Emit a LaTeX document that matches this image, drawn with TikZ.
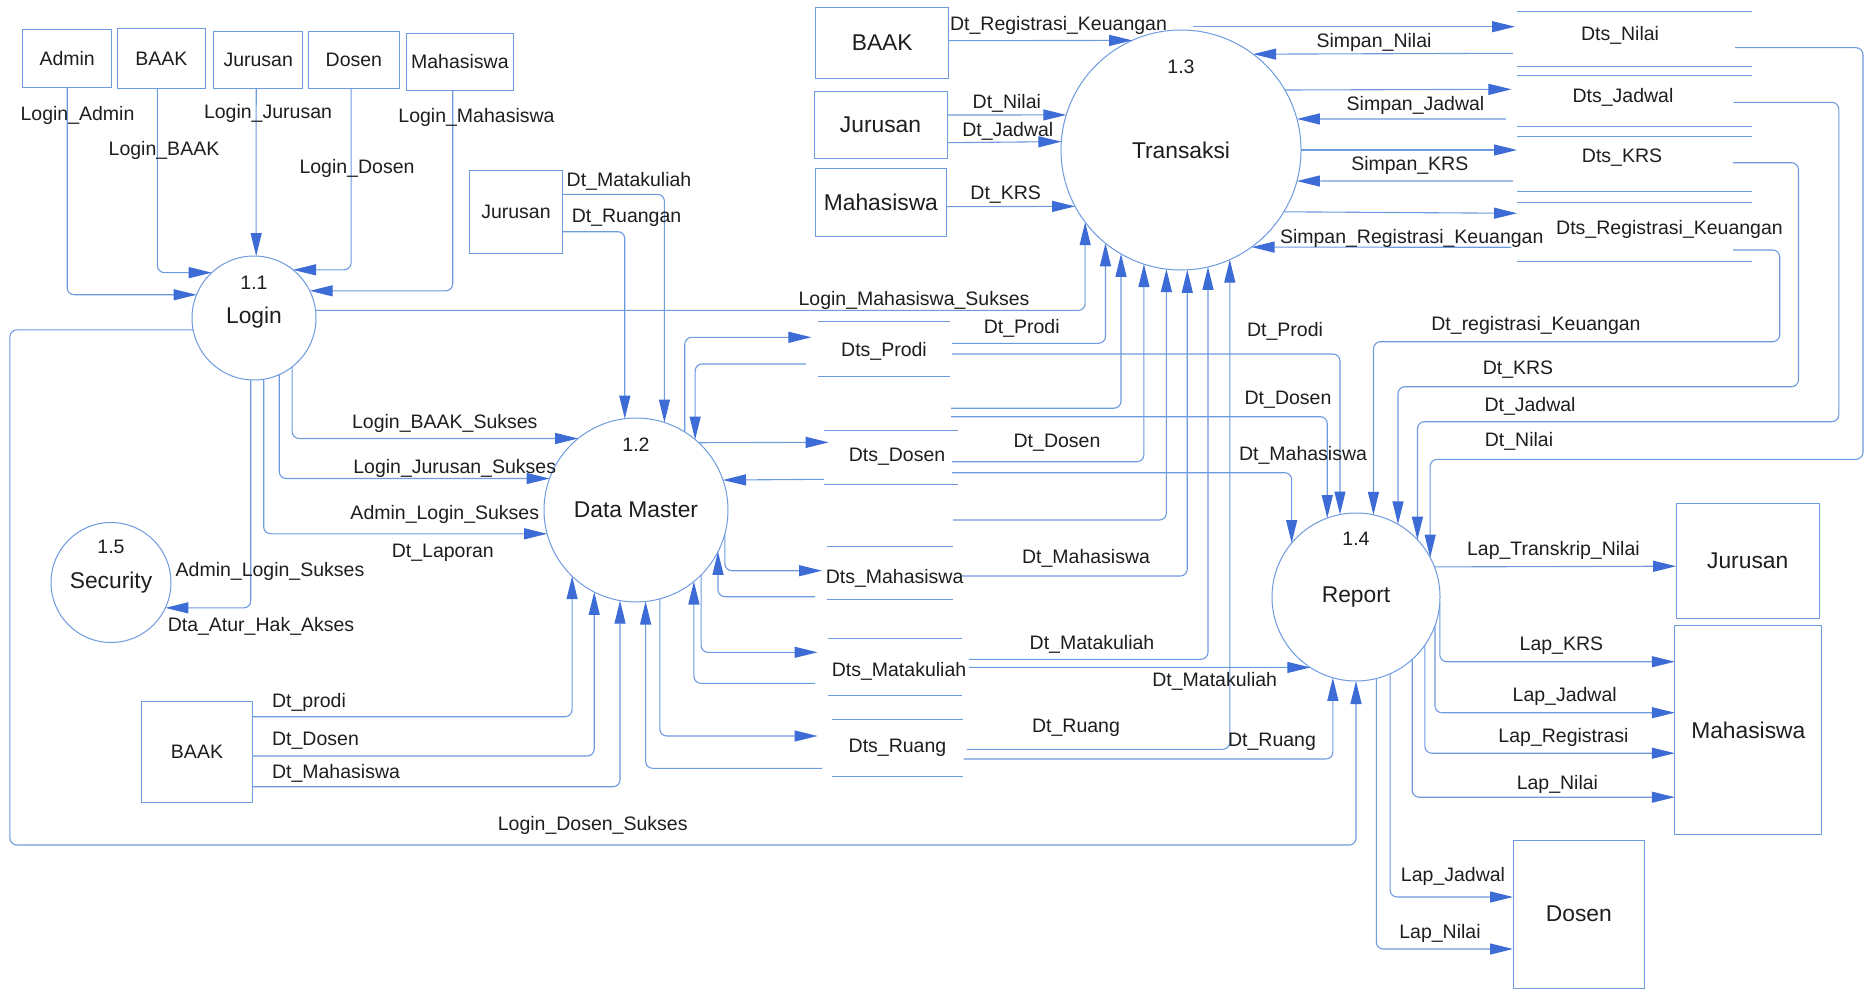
\documentclass[tikz,border=0pt]{standalone}
\usepackage{fontspec}
\setmainfont{Liberation Sans}
\usetikzlibrary{arrows.meta}
\definecolor{lineblue}{HTML}{6E9BE0}
\definecolor{tipblue}{HTML}{3D6CD6}
\definecolor{inkgray}{HTML}{1E1E1E}

\begin{document}
\begin{tikzpicture}[x=1pt,y=-1pt,
  every node/.style={inner sep=0pt, outer sep=0pt, text=inkgray},
  lbl/.style={font=\fontsize{19.5}{22}\selectfont},
  big/.style={font=\fontsize{22.8}{26}\selectfont},
  proc/.style={circle, draw=lineblue, line width=1pt, fill=white, big},
  ent/.style={rectangle, draw=lineblue, line width=1pt, fill=white},
  store/.style={rectangle},
  flow/.style={draw=lineblue, line width=1.1pt, rounded corners=7pt},
  arr/.style={flow, -{Triangle[length=23pt,width=11pt,color=tipblue]}},
]
\useasboundingbox[fill=white] (0,0) rectangle (1870,990);

% ---------- processes ----------
\node[proc, minimum size=124pt, label={[lbl,yshift=35pt]center:1.1}] (login) at (254,318) {Login};
\node[proc, minimum size=184pt, label={[lbl,yshift=65pt]center:1.2}] (dm) at (636,510) {Data Master};
\node[proc, minimum size=240pt, label={[lbl,yshift=83pt]center:1.3}] (trans) at (1181,150) {Transaksi};
\node[proc, minimum size=168pt, label={[lbl,yshift=58pt]center:1.4}] (rep) at (1356,597) {Report};
\node[proc, minimum size=120pt, label={[lbl,yshift=36pt]center:1.5}] (sec) at (111,582.5) {Security};

% ---------- external entities ----------
\node[ent, lbl, minimum width=88.6pt, minimum height=58.4pt] (admin) at (67.2,58.5) {Admin};
\node[ent, lbl, minimum width=88.6pt, minimum height=59pt] (baak1) at (161.3,58.5) {BAAK};
\node[ent, lbl, minimum width=89.4pt, minimum height=56.3pt] (jur1) at (258.2,59.9) {Jurusan};
\node[ent, lbl, minimum width=91pt, minimum height=56.3pt] (dos1) at (353.9,59.9) {Dosen};
\node[ent, lbl, minimum width=106.7pt, minimum height=56.7pt] (mhs1) at (459.9,61.7) {Mahasiswa};
\node[ent, lbl, minimum width=92.6pt, minimum height=83.3pt] (jur2) at (516,212.3) {Jurusan};
\node[ent, big, minimum width=132.9pt, minimum height=71pt] (baak2) at (882.2,42.8) {BAAK};
\node[ent, big, minimum width=133pt, minimum height=66.6pt] (jur3) at (880.5,125) {Jurusan};
\node[ent, big, minimum width=130.3pt, minimum height=67.7pt] (mhs3) at (880.9,202.2) {Mahasiswa};
\node[ent, lbl, minimum width=110.7pt, minimum height=101pt] (baak4) at (197,752.2) {BAAK};
\node[ent, big, minimum width=143.4pt, minimum height=114.7pt] (jur5) at (1747.7,560.7) {Jurusan};
\node[ent, big, minimum width=147.1pt, minimum height=209pt] (mhs5) at (1748.3,730.1) {Mahasiswa};
\node[ent, big, minimum width=131.6pt, minimum height=148pt] (dos5) at (1578.8,914) {Dosen};

% ---------- data stores ----------
\node[store, minimum width=132pt, minimum height=54.3pt, label={[lbl,yshift=-2.7pt]center:Dts\_Prodi}] (sprodi) at (884,349) {};
\node[store, minimum width=134pt, minimum height=54.3pt, label={[lbl,xshift=6pt]center:Dts\_Dosen}] (sdosen) at (891,457.2) {};
\node[store, minimum width=126.4pt, minimum height=52.6pt, label={[lbl,xshift=4.8pt,yshift=-5.3pt]center:Dts\_Mahasiswa}] (smhs) at (889.8,573) {};
\node[store, minimum width=134pt, minimum height=56.7pt, label={[lbl,xshift=4pt,yshift=-5pt]center:Dts\_Matakuliah}] (smk) at (895,666.7) {};
\node[store, minimum width=131pt, minimum height=56.7pt, label={[lbl]center:Dts\_Ruang}] (sruang) at (897.5,748.3) {};
\node[store, minimum width=235pt, minimum height=54.3pt, label={[lbl,xshift=-14.5pt,yshift=3.9pt]center:Dts\_Nilai}] (snilai) at (1634.5,38.9) {};
\node[store, minimum width=235pt, minimum height=50.7pt, label={[lbl,xshift=-11.5pt,yshift=3.6pt]center:Dts\_Jadwal}] (sjadwal) at (1634.5,101.3) {};
\node[store, minimum width=235pt, minimum height=55pt, label={[lbl,xshift=-12.5pt,yshift=6.5pt]center:Dts\_KRS}] (skrs) at (1634.5,164.2) {};
\node[store, minimum width=235pt, minimum height=59.4pt, label={[lbl,xshift=35pt,yshift=2.7pt]center:Dts\_Registrasi\_Keuangan}] (srk) at (1634.5,232) {};
\foreach \s in {sprodi,sdosen,smhs,smk,sruang,snilai,sjadwal,skrs,srk}
  \draw[lineblue, line width=1pt] (\s.north west) -- (\s.north east) (\s.south west) -- (\s.south east);

% ---------- coordinates for long detours ----------
\coordinate (ldos) at (9.9,845);
\coordinate (cnil) at (1863,459.3);
\coordinate (cjad) at (1838.8,421.7);
\coordinate (ckrs) at (1798.5,386.7);
\coordinate (crk) at (1779.7,341.7);

% ---------- logins into 1.1 ----------
\draw[arr] (admin.south) |- (login.158.2);
\draw[arr] ([xshift=-3.9pt]baak1.south) |- (login.133.9);
\draw[arr] ([xshift=-2pt]jur1.south) -- (login.88);
\draw[arr] ([xshift=-2.8pt]dos1.south) |- (login.51.8);
\draw[arr] ([xshift=-7.2pt]mhs1.south) |- (login.26.1);

% ---------- outputs of 1.1 ----------
\draw[arr] (login.7.4) -| (trans.-143.1);
\draw[arr] (login.191.2) -| (ldos) -| (rep.-90);
\draw[arr] (login.-52.4) |- (dm.129.8);
\draw[arr] (login.-66.4) |- (dm.160.5);
\draw[arr] (login.-81.6) |- (dm.195.8);
\draw[arr] (login.-93.7) |- (sec.-25.5);

% ---------- into 1.2 ----------
\draw[arr] ([yshift=18pt]jur2.east) -| (dm.72.1);
\draw[arr] ([yshift=-19.4pt]jur2.east) -| (dm.97.5);
\draw[arr] ([yshift=35.5pt]baak4.east) -| (dm.-134.6);
\draw[arr] ([yshift=-3.8pt]baak4.east) -| (dm.-117.9);
\draw[arr] ([yshift=-34.5pt]baak4.east) -| (dm.-100.8);

% ---------- 1.2 <-> master stores ----------
\draw[arr] (dm.58.6) |- ([xshift=-6.6pt,yshift=11.7pt]sprodi.west);
\draw[arr] ([xshift=-12pt,yshift=-15pt]sprodi.west) -| (dm.50.7);
\draw[arr] (dm.47.4) -- ([xshift=4.6pt,yshift=14.9pt]sdosen.west);
\draw[arr] ([yshift=-22.1pt]sdosen.west) -- (dm.19.5);
\draw[arr] (dm.-15.4) |- ([xshift=-4.6pt,yshift=2.3pt]smhs.west);
\draw[arr] ([xshift=-11.6pt,yshift=-23.7pt]smhs.west) -| (dm.-27.8);
\draw[arr] (dm.-45.6) |- ([xshift=-10.5pt,yshift=14.4pt]smk.west);
\draw[arr] ([xshift=-13pt,yshift=-16.6pt]smk.west) -| (dm.-51.3);
\draw[arr] (dm.-75.5) |- ([xshift=-14.5pt,yshift=12.3pt]sruang.west);
\draw[arr] ([xshift=-10pt,yshift=-20pt]sruang.west) -| (dm.-84.2);

% ---------- entities into 1.3 ----------
\draw[arr] ([yshift=2.1pt]baak2.east) -- (trans.114.4);
\draw[arr] ([yshift=10pt]jur3.east) -- (trans.163);
\draw[arr] ([yshift=-17.7pt]jur3.east) -- (trans.176.5);
\draw[arr] ([yshift=-4.5pt]mhs3.east) -- (trans.208.2);

% ---------- 1.3 <-> transaction stores ----------
\draw[arr] ([xshift=11.5pt,yshift=3.3pt]trans.north) -- ([xshift=-2pt,yshift=12.2pt]snilai.west);
\draw[arr] ([xshift=-4pt,yshift=-14.4pt]snilai.west) -- (trans.53.7);
\draw[arr] (trans.30.4) -- ([xshift=-5.6pt,yshift=12pt]sjadwal.west);
\draw[arr] ([xshift=-11.2pt,yshift=-17.7pt]sjadwal.west) -- (trans.15);
\draw[arr] (trans.0) -- ([yshift=14.2pt]skrs.west);
\draw[arr] ([xshift=-4pt,yshift=-16.8pt]skrs.west) -- (trans.-15);
\draw[arr] (trans.-31.8) -- ([yshift=18.7pt]srk.west);
\draw[arr] ([xshift=-5.6pt,yshift=-15.3pt]srk.west) -- (trans.-54.2);

% ---------- master stores into 1.3 and 1.4 ----------
\draw[arr] ([xshift=2pt,yshift=5.7pt]sprodi.east) -| (trans.-129.3);
\draw[arr] ([xshift=2pt,yshift=-5pt]sprodi.east) -| (rep.101.3);
\draw[arr] ([xshift=-7pt,yshift=49pt]sdosen.east) -| (trans.-120);
\draw[arr] ([xshift=-7pt,yshift=40.5pt]sdosen.east) -| (rep.110.6);
\draw[arr] ([xshift=-6pt,yshift=-4.5pt]sdosen.east) -| (trans.-108.6);
\draw[arr] ([xshift=-6pt,yshift=-15.5pt]sdosen.east) -| (rep.140.7);
\draw[arr] ([yshift=53pt]smhs.east) -| (trans.-97.7);
\draw[arr] ([xshift=9pt,yshift=-3pt]smhs.east) -| (trans.-87.3);
\draw[arr] ([xshift=7pt,yshift=7.4pt]smk.east) -| (trans.-77);
\draw[arr] ([xshift=7pt,yshift=-0.6pt]smk.east) -- (rep.-123.2);
\draw[arr] ([xshift=3.7pt,yshift=-1pt]sruang.east) -| (trans.-66.9);
\draw[arr] ([xshift=0.5pt,yshift=-10.7pt]sruang.east) -| (rep.-106.6);

% ---------- transaction stores into 1.4 ----------
\draw[arr] ([xshift=-17pt,yshift=-8.8pt]snilai.east) -| (cnil) -| (rep.28.2);
\draw[arr] ([xshift=-18.6pt,yshift=-1pt]sjadwal.east) -| (cjad) -| (rep.43.4);
\draw[arr] ([xshift=-19pt,yshift=1.5pt]skrs.east) -| (ckrs) -| (rep.60.4);
\draw[arr] ([xshift=-19pt,yshift=-18pt]srk.east) -| (crk) -| (rep.78.3);

% ---------- reports ----------
\draw[arr] (rep.21.5) -- ([yshift=-5.5pt]jur5.west);
\draw[arr] (rep.-4.8) |- ([yshift=68.4pt]mhs5.west);
\draw[arr] (rep.-20.9) |- ([yshift=17.4pt]mhs5.west);
\draw[arr] (rep.-35) |- ([yshift=-23.1pt]mhs5.west);
\draw[arr] (rep.-48.2) |- ([yshift=-67.1pt]mhs5.west);
\draw[arr] (rep.-66.5) |- ([yshift=17pt]dos5.west);
\draw[arr] (rep.-76.4) |- ([yshift=-35pt]dos5.west);

% ---------- flow labels ----------
\begin{scope}[every node/.append style={lbl}]
\node (l01) at (77.5,115) {Login\_Admin};
\node (l02) at (164,150) {Login\_BAAK};
\node (l03) at (268,113) {Login\_Jurusan};
\node (l04) at (357,168) {Login\_Dosen};
\node (l05) at (476.5,117) {Login\_Mahasiswa};
\node (l06) at (629,181.7) {Dt\_Matakuliah};
\node (l07) at (626.5,218.3) {Dt\_Ruangan};
\node (l08) at (914,300) {Login\_Mahasiswa\_Sukses};
\node (l09) at (444.8,423.3) {Login\_BAAK\_Sukses};
\node (l10) at (454.7,468.3) {Login\_Jurusan\_Sukses};
\node (l11) at (444.8,514.3) {Admin\_Login\_Sukses};
\node (l12) at (442.8,553.3) {Dt\_Laporan};
\node (l13) at (270,571.7) {Admin\_Login\_Sukses};
\node (l14) at (261,626) {Dta\_Atur\_Hak\_Akses};
\node (l15) at (309,702.7) {Dt\_prodi};
\node (l16) at (315.5,740.7) {Dt\_Dosen};
\node (l17) at (336,773.3) {Dt\_Mahasiswa};
\node (l18) at (592.7,825.3) {Login\_Dosen\_Sukses};
\node (l19) at (1058.5,25) {Dt\_Registrasi\_Keuangan};
\node (l20) at (1006.8,103.3) {Dt\_Nilai};
\node (l21) at (1007.8,131.7) {Dt\_Jadwal};
\node (l22) at (1005.7,194.3) {Dt\_KRS};
\node (l23) at (1374,42.7) {Simpan\_Nilai};
\node (l24) at (1415.5,105) {Simpan\_Jadwal};
\node (l25) at (1409.8,165.7) {Simpan\_KRS};
\node (l26) at (1411.7,238.3) {Simpan\_Registrasi\_Keuangan};
\node (l27) at (1021.7,328) {Dt\_Prodi};
\node (l28) at (1285,331.7) {Dt\_Prodi};
\node (l29) at (1288,400) {Dt\_Dosen};
\node (l30) at (1057,443) {Dt\_Dosen};
\node (l31) at (1303,455) {Dt\_Mahasiswa};
\node (l32) at (1086,558.3) {Dt\_Mahasiswa};
\node (l33) at (1092,644) {Dt\_Matakuliah};
\node (l34) at (1214.7,681) {Dt\_Matakuliah};
\node (l35) at (1076,728.3) {Dt\_Ruang};
\node (l36) at (1272,741.7) {Dt\_Ruang};
\node (l37) at (1536,325.5) {Dt\_registrasi\_Keuangan};
\node (l38) at (1518,369.5) {Dt\_KRS};
\node (l39) at (1530,406.5) {Dt\_Jadwal};
\node (l40) at (1519,441.7) {Dt\_Nilai};
\node (l41) at (1553.4,550.8) {Lap\_Transkrip\_Nilai};
\node (l42) at (1561.4,645.4) {Lap\_KRS};
\node (l43) at (1564.7,696.9) {Lap\_Jadwal};
\node (l44) at (1563.5,737.8) {Lap\_Registrasi};
\node (l45) at (1557.4,784) {Lap\_Nilai};
\node (l46) at (1453,876.4) {Lap\_Jadwal};
\node (l47) at (1440,933.6) {Lap\_Nilai};
\end{scope}
\end{tikzpicture}
\end{document}
